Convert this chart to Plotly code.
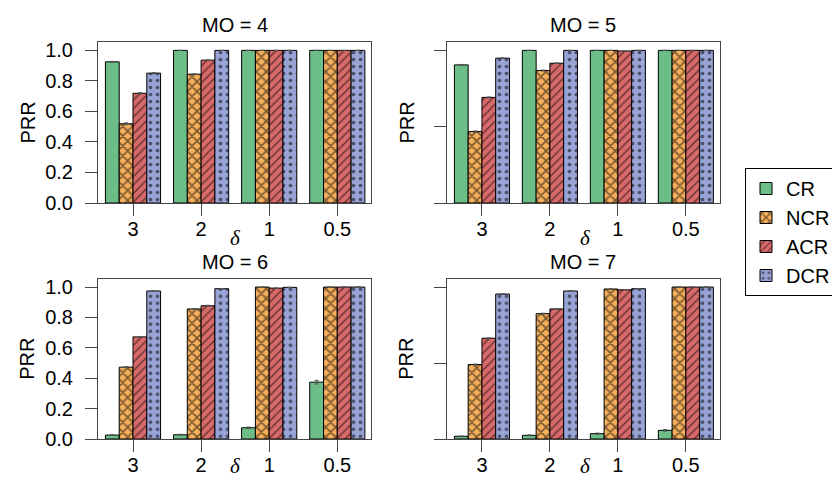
import plotly.graph_objects as go

W, H = 840, 477
deltas = ["3", "2", "1", "0.5"]
series = ["CR", "NCR", "ACR", "DCR"]
panels = ["MO = 4", "MO = 5", "MO = 6", "MO = 7"]

# values per panel (MO=4..7), per series, per delta
mo4_cr = [0.925, 1.0, 1.0, 1.0]
mo4_ncr = [0.519, 0.844, 1.0, 1.0]
mo4_acr = [0.719, 0.936, 1.0, 1.0]
mo4_dcr = [0.851, 1.0, 1.0, 1.0]

mo5_cr = [0.905, 1.0, 1.0, 1.0]
mo5_ncr = [0.468, 0.868, 1.0, 1.0]
mo5_acr = [0.692, 0.916, 0.996, 1.0]
mo5_dcr = [0.949, 1.0, 1.0, 1.0]

mo6_cr = [0.026, 0.028, 0.074, 0.374]
mo6_ncr = [0.473, 0.856, 1.0, 1.0]
mo6_acr = [0.672, 0.877, 0.993, 1.0]
mo6_dcr = [0.974, 0.989, 0.998, 1.0]

mo7_cr = [0.018, 0.024, 0.035, 0.057]
mo7_ncr = [0.490, 0.825, 0.987, 1.0]
mo7_acr = [0.663, 0.856, 0.982, 1.0]
mo7_dcr = [0.954, 0.974, 0.989, 1.0]

# standard errors (small whiskers)
mo4_err = [[0.003, 0.0, 0.0, 0.0], [0.006, 0.003, 0.0, 0.0], [0.004, 0.002, 0.0, 0.0], [0.004, 0.0, 0.0, 0.0]]
mo5_err = [[0.003, 0.0, 0.0, 0.0], [0.004, 0.003, 0.0, 0.0], [0.003, 0.002, 0.001, 0.0], [0.002, 0.0, 0.0, 0.0]]
mo6_err = [[0.003, 0.003, 0.005, 0.012], [0.003, 0.003, 0.0, 0.0], [0.003, 0.003, 0.001, 0.0], [0.002, 0.001, 0.0, 0.0]]
mo7_err = [[0.002, 0.003, 0.004, 0.005], [0.003, 0.003, 0.001, 0.0], [0.003, 0.003, 0.002, 0.0], [0.002, 0.002, 0.001, 0.0]]

panel_values = [
    [mo4_cr, mo4_ncr, mo4_acr, mo4_dcr],
    [mo5_cr, mo5_ncr, mo5_acr, mo5_dcr],
    [mo6_cr, mo6_ncr, mo6_acr, mo6_dcr],
    [mo7_cr, mo7_ncr, mo7_acr, mo7_dcr],
]
panel_errs = [mo4_err, mo5_err, mo6_err, mo7_err]

colors = ["#6dbd88", "#f6b05c", "#d96a6a", "#98a3d6"]
patterns = ["", "x", "/", "."]
pat_size = [8, 7, 6, 7]
pat_sol = [0.2, 0.4, 0.25, 0.22]

FONT = "Liberation Sans, Arial, Helvetica, sans-serif"

# pixel layout helpers
def px_x(p):
    return p / W

def px_y(p):
    return 1 - p / H

x_domains = [[px_x(90), px_x(363)], [px_x(439), px_x(711.5)]]
y_domains = [[px_y(195), px_y(34)], [px_y(431), px_y(270.7)]]

fig = go.Figure()

for pi in range(4):
    ax = "" if pi == 0 else str(pi + 1)
    for si, s in enumerate(series):
        marker = dict(color=colors[si], line=dict(color="black", width=1))
        if patterns[si]:
            marker["pattern"] = dict(shape=patterns[si], fgcolor="black",
                                     size=pat_size[si], solidity=pat_sol[si])
        fig.add_trace(go.Bar(
            x=deltas, y=panel_values[pi][si], name=s,
            marker=marker,
            error_y=dict(type="data", array=panel_errs[pi][si], color="#555555",
                         thickness=1, width=2),
            legendgroup=s, showlegend=(pi == 0),
            xaxis="x" + ax, yaxis="y" + ax,
        ))

layout = dict(
    width=W, height=H,
    margin=dict(l=0, r=0, t=0, b=0),
    paper_bgcolor="white", plot_bgcolor="white",
    barmode="group", bargap=0.19, bargroupgap=0.0,
    font=dict(family=FONT, size=20, color="black"),
    showlegend=True,
    legend=dict(x=px_x(737), y=px_y(160), xanchor="left", yanchor="top",
                bordercolor="black", borderwidth=1, bgcolor="white",
                font=dict(size=20), tracegroupgap=0, itemwidth=30),
)

annotations = []
for pi in range(4):
    r, c = divmod(pi, 2)
    ax = "" if pi == 0 else str(pi + 1)
    layout["xaxis" + ax] = dict(
        domain=x_domains[c], anchor="y" + ax, type="category",
        range=[-0.514, 3.495], showline=True, mirror=True, linecolor="#444444",
        linewidth=1, ticks="outside", ticklen=12, tickcolor="#444444",
        showgrid=False, zeroline=False, tickfont=dict(size=20),
        ticklabelstandoff=-4, automargin=False,
    )
    ydict = dict(
        domain=y_domains[r], anchor="x" + ax, range=[0, 1.055],
        showline=True, mirror=True, linecolor="#444444", linewidth=1,
        ticks="outside", ticklen=12, tickcolor="#444444",
        showgrid=False, zeroline=False, tickfont=dict(size=20),
        ticklabelstandoff=8, automargin=False,
    )
    if c == 0:
        ydict.update(tickvals=[0, 0.2, 0.4, 0.6, 0.8, 1.0], tickformat=".1f")
    else:
        ydict.update(tickvals=[0, 0.5, 1.0], showticklabels=False)
    layout["yaxis" + ax] = ydict

    xc = (x_domains[c][0] + x_domains[c][1]) / 2
    title_y = [17, 254][r]
    annotations.append(dict(text=panels[pi], x=xc, y=px_y(title_y), xref="paper", yref="paper",
                            showarrow=False, xanchor="center", yanchor="middle",
                            font=dict(size=20)))
    delta_y = [230, 458][r]
    annotations.append(dict(text="<i>δ</i>", x=px_x([228, 577][c]), y=px_y(delta_y),
                            xref="paper", yref="paper", showarrow=False,
                            xanchor="center", yanchor="middle",
                            font=dict(size=21, family="Liberation Serif, Times New Roman, serif")))
    prr_x = [19, 398][c]
    prr_y = [(34 + 195) / 2, (270.7 + 431) / 2][r]
    annotations.append(dict(text="PRR", x=px_x(prr_x), y=px_y(prr_y), xref="paper", yref="paper",
                            showarrow=False, textangle=-90, xanchor="center", yanchor="middle",
                            font=dict(size=20)))

layout["annotations"] = annotations
fig.update_layout(**layout)
fig.write_html("out.html")
